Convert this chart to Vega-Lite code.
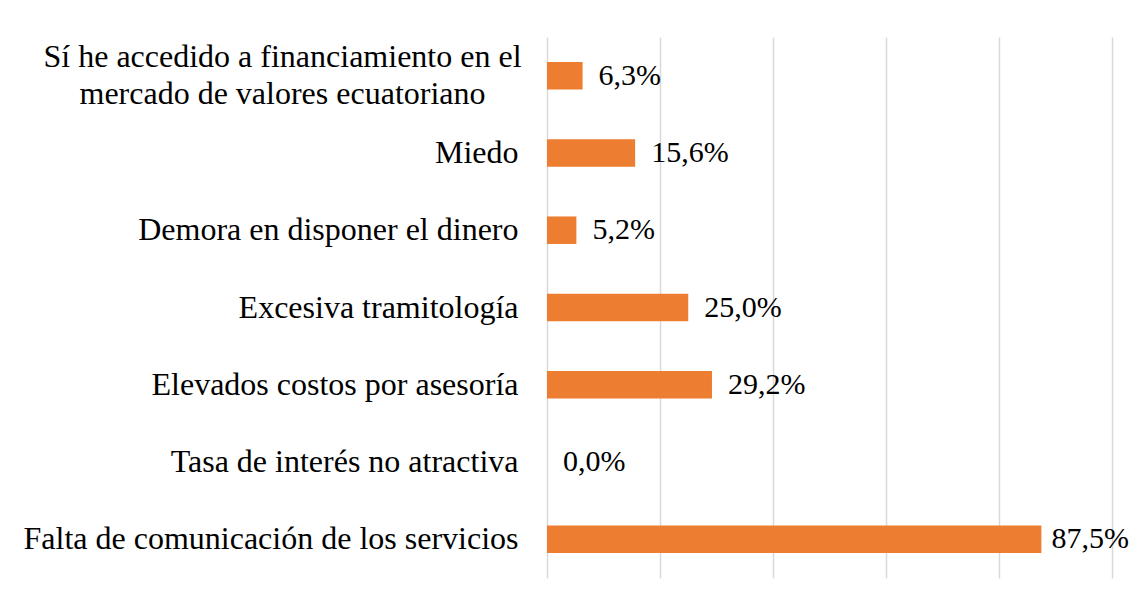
{
  "$schema": "https://vega.github.io/schema/vega-lite/v6.json",
  "width": 565,
  "height": 541,
  "autosize": {"type": "none"},
  "padding": {"left": 547, "top": 37, "right": 22, "bottom": 24},
  "background": "white",
  "config": {
    "locale": {"number": {"decimal": ",", "thousands": ".", "grouping": [3], "currency": ["$", ""]}},
    "view": {"stroke": null},
    "font": "Times New Roman"
  },
  "data": {
    "values": [
      {"motivo": "Sí he accedido a financiamiento en el|mercado de valores ecuatoriano", "valor": 0.063},
      {"motivo": "Miedo", "valor": 0.156},
      {"motivo": "Demora en disponer el dinero", "valor": 0.052},
      {"motivo": "Excesiva tramitología", "valor": 0.25},
      {"motivo": "Elevados costos por asesoría", "valor": 0.292},
      {"motivo": "Tasa de interés no atractiva", "valor": 0.0},
      {"motivo": "Falta de comunicación de los servicios", "valor": 0.875}
    ]
  },
  "encoding": {
    "y": {
      "field": "motivo",
      "type": "nominal",
      "sort": null,
      "scale": {"paddingInner": 0.644, "paddingOuter": 0.322},
      "axis": {
        "title": null,
        "ticks": false,
        "domain": false,
        "labelFont": "Liberation Serif",
        "labelFontSize": 32,
        "labelColor": "black",
        "labelPadding": {"condition": {"test": "indexof(datum.label, '|') >= 0", "value": 265}, "value": 29},
        "labelAlign": {"condition": {"test": "indexof(datum.label, '|') >= 0", "value": "center"}, "value": "right"},
        "labelLimit": 700,
        "labelExpr": "split(datum.label, '|')",
        "labelLineHeight": 37,
        "labelOffset": {"condition": {"test": "indexof(datum.label, '|') >= 0", "value": -18.5}, "value": 0}
      }
    },
    "x": {
      "field": "valor",
      "type": "quantitative",
      "scale": {"domain": [0, 1]},
      "axis": {
        "title": null,
        "labels": false,
        "ticks": false,
        "domain": false,
        "values": [0, 0.2, 0.4, 0.6, 0.8, 1],
        "gridColor": "#d9d9d9",
        "gridWidth": 1.5
      }
    }
  },
  "layer": [
    {"mark": {"type": "bar", "color": "#ED7D31"}},
    {
      "transform": [{"filter": "datum.valor < 0.8"}],
      "mark": {"type": "text", "align": "left", "baseline": "middle", "dx": 16, "fontSize": 30, "font": "Liberation Serif", "color": "black"},
      "encoding": {"text": {"field": "valor", "type": "quantitative", "format": ".1%"}}
    },
    {
      "transform": [{"filter": "datum.valor >= 0.8"}],
      "mark": {"type": "text", "align": "left", "baseline": "middle", "dx": 10, "fontSize": 30, "font": "Liberation Serif", "color": "black"},
      "encoding": {"text": {"field": "valor", "type": "quantitative", "format": ".1%"}}
    }
  ]
}
